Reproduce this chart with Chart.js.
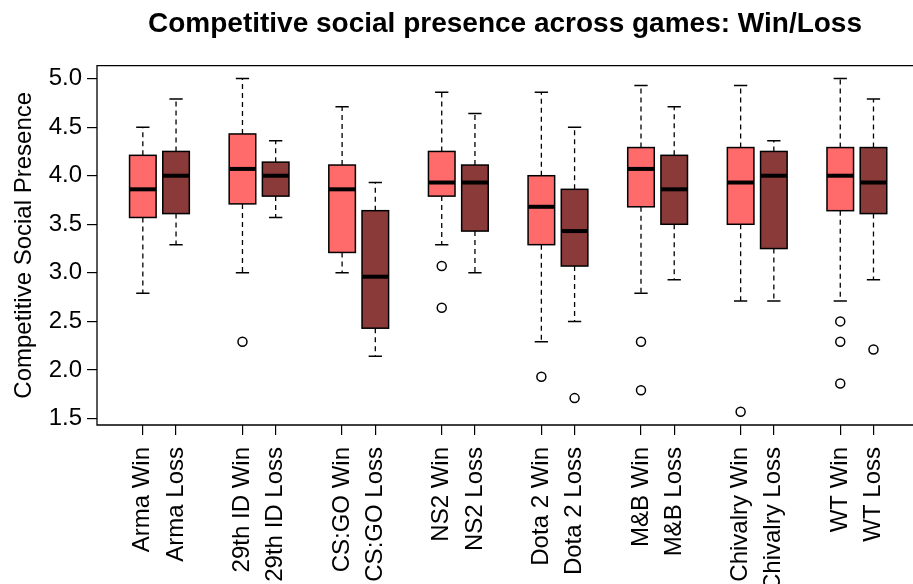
<!DOCTYPE html>
<html>
<head>
<meta charset="utf-8">
<script src="https://cdn.jsdelivr.net/npm/chart.js@4.4.1/dist/chart.umd.min.js"></script>
<style>
  html, body { margin: 0; padding: 0; background: #fff; }
  #wrap { width: 913px; height: 584px; }
</style>
</head>
<body>
<div id="wrap"><canvas id="boxChart" width="913" height="584"></canvas></div>
<script>
// Games, in plotting order
const games = ["Arma", "29th ID", "CS:GO", "NS2", "Dota 2", "M&B", "Chivalry", "WT"];

// Five-number summaries for winners: [lower whisker, Q1, median, Q3, upper whisker]
const winStats = [
  [2.79, 3.57, 3.86, 4.21, 4.50],
  [3.00, 3.71, 4.07, 4.43, 5.00],
  [3.00, 3.21, 3.86, 4.11, 4.71],
  [3.29, 3.79, 3.93, 4.25, 4.86],
  [2.29, 3.29, 3.68, 4.00, 4.86],
  [2.79, 3.68, 4.07, 4.29, 4.93],
  [2.71, 3.50, 3.93, 4.29, 4.93],
  [2.71, 3.64, 4.00, 4.29, 5.00]
];

// Same for losers
const lossStats = [
  [3.29, 3.61, 4.00, 4.25, 4.79],
  [3.57, 3.79, 4.00, 4.14, 4.36],
  [2.14, 2.43, 2.96, 3.64, 3.93],
  [3.00, 3.43, 3.93, 4.11, 4.64],
  [2.50, 3.07, 3.43, 3.86, 4.50],
  [2.93, 3.50, 3.86, 4.21, 4.71],
  [2.71, 3.25, 4.00, 4.25, 4.36],
  [2.93, 3.61, 3.93, 4.29, 4.79]
];

// Outlying points per game
const winOutliers = [[], [2.29], [], [3.07, 2.64], [1.93], [2.29, 1.79], [1.57], [2.50, 2.29, 1.86]];
const lossOutliers = [[], [], [], [], [1.71], [], [], [2.21]];

// y axis tick values
const yTicks = [1.5, 2.0, 2.5, 3.0, 3.5, 4.0, 4.5, 5.0];

const winColor = "#FF6A6A";
const lossColor = "#8B3A3A";

// each game gets two slots followed by a gap: 1,2, 4,5, 7,8 ...
const positions = [];
const tickLabels = {};
games.forEach((g, i) => {
  positions.push(3 * i + 1, 3 * i + 2);
  tickLabels[3 * i + 1] = g + " Win";
  tickLabels[3 * i + 2] = g + " Loss";
});

const boxes = [];
games.forEach((g, i) => {
  boxes.push({ pos: 3 * i + 1, s: winStats[i], color: winColor });
  boxes.push({ pos: 3 * i + 2, s: lossStats[i], color: lossColor });
});

const outlierPoints = [];
games.forEach((g, i) => {
  winOutliers[i].forEach(v => outlierPoints.push({ x: 3 * i + 1, y: v }));
  lossOutliers[i].forEach(v => outlierPoints.push({ x: 3 * i + 2, y: v }));
});

const FONT = "'Liberation Sans', Arial, Helvetica, sans-serif";

// draws boxes, whiskers and staples under the outlier points
const boxPlugin = {
  id: "boxes",
  beforeDatasetsDraw(chart) {
    const ctx = chart.ctx;
    const xs = chart.scales.x;
    const ys = chart.scales.y;
    ctx.save();
    boxes.forEach(b => {
      const [lo, q1, med, q3, hi] = b.s;
      const xc = xs.getPixelForValue(b.pos);
      const xl = xs.getPixelForValue(b.pos - 0.4);
      const xr = xs.getPixelForValue(b.pos + 0.4);
      const sl = xs.getPixelForValue(b.pos - 0.2);
      const sr = xs.getPixelForValue(b.pos + 0.2);
      const yLo = ys.getPixelForValue(lo);
      const yQ1 = ys.getPixelForValue(q1);
      const yMed = ys.getPixelForValue(med);
      const yQ3 = ys.getPixelForValue(q3);
      const yHi = ys.getPixelForValue(hi);

      // whiskers
      ctx.strokeStyle = "#000";
      ctx.lineWidth = 1.3;
      ctx.setLineDash([5, 4]);
      ctx.beginPath();
      ctx.moveTo(xc, yQ3); ctx.lineTo(xc, yHi);
      ctx.moveTo(xc, yQ1); ctx.lineTo(xc, yLo);
      ctx.stroke();
      ctx.setLineDash([]);

      // staples
      ctx.lineWidth = 1.5;
      ctx.beginPath();
      ctx.moveTo(sl, yHi); ctx.lineTo(sr, yHi);
      ctx.moveTo(sl, yLo); ctx.lineTo(sr, yLo);
      ctx.stroke();

      // box
      ctx.fillStyle = b.color;
      ctx.fillRect(xl, yQ3, xr - xl, yQ1 - yQ3);
      ctx.lineWidth = 1.5;
      ctx.strokeRect(xl, yQ3, xr - xl, yQ1 - yQ3);

      // median
      ctx.lineWidth = 4;
      ctx.beginPath();
      ctx.moveTo(xl, yMed); ctx.lineTo(xr, yMed);
      ctx.stroke();
    });
    ctx.restore();
  },
  // plot frame; its right side falls just past the canvas edge
  afterDraw(chart) {
    const { left, top, bottom } = chart.chartArea;
    const w = chart.width;
    const ctx = chart.ctx;
    ctx.save();
    ctx.strokeStyle = "#000";
    ctx.lineWidth = 1.3;
    ctx.beginPath();
    ctx.moveTo(w + 2, top);
    ctx.lineTo(left, top);
    ctx.lineTo(left, bottom);
    ctx.lineTo(w + 2, bottom);
    ctx.stroke();
    ctx.restore();
  }
};

new Chart(document.getElementById("boxChart"), {
  type: "scatter",
  data: {
    datasets: [{
      data: outlierPoints,
      pointStyle: "circle",
      pointRadius: 4.5,
      pointHoverRadius: 4.5,
      pointBorderWidth: 1.5,
      borderColor: "#000",
      backgroundColor: "rgba(0,0,0,0)",
      clip: false
    }]
  },
  options: {
    responsive: false,
    animation: false,
    devicePixelRatio: 1,
    layout: { padding: 0, autoPadding: false },
    plugins: {
      legend: { display: false },
      tooltip: { enabled: false },
      title: {
        display: true,
        fullSize: false,
        text: "Competitive social presence across games: Win/Loss",
        color: "#000",
        font: { family: FONT, size: 28, weight: "bold", lineHeight: 1.2 },
        padding: { top: 7, bottom: 25 }
      }
    },
    scales: {
      x: {
        type: "linear",
        min: -0.38,
        max: 24.19,
        border: { display: false },
        grid: { drawOnChartArea: false, drawTicks: true, tickLength: 10, color: "#000", lineWidth: 1.2 },
        afterBuildTicks(scale) {
          scale.ticks = positions.map(v => ({ value: v }));
        },
        afterFit(scale) {
          scale.height = 159;
          scale.paddingLeft = 0;
          scale.paddingRight = 0;
        },
        ticks: {
          autoSkip: false,
          minRotation: 90,
          maxRotation: 90,
          padding: 12,
          color: "#000",
          font: { family: FONT, size: 24 },
          callback: v => tickLabels[v] || ""
        }
      },
      y: {
        min: 1.433,
        max: 5.134,
        border: { display: false },
        grid: { drawOnChartArea: false, drawTicks: true, tickLength: 10, color: "#000", lineWidth: 1.2 },
        afterBuildTicks(scale) {
          scale.ticks = yTicks.map(v => ({ value: v }));
        },
        afterFit(scale) {
          scale.width = 97;
          scale.paddingTop = 0;
          scale.paddingBottom = 0;
        },
        ticks: {
          padding: 5,
          color: "#000",
          font: { family: FONT, size: 24 },
          callback: v => Number(v).toFixed(1)
        },
        title: {
          display: true,
          text: "Competitive Social Presence",
          color: "#000",
          font: { family: FONT, size: 24 },
          padding: { top: 10, bottom: 0 }
        }
      }
    }
  },
  plugins: [boxPlugin]
});
</script>
</body>
</html>
